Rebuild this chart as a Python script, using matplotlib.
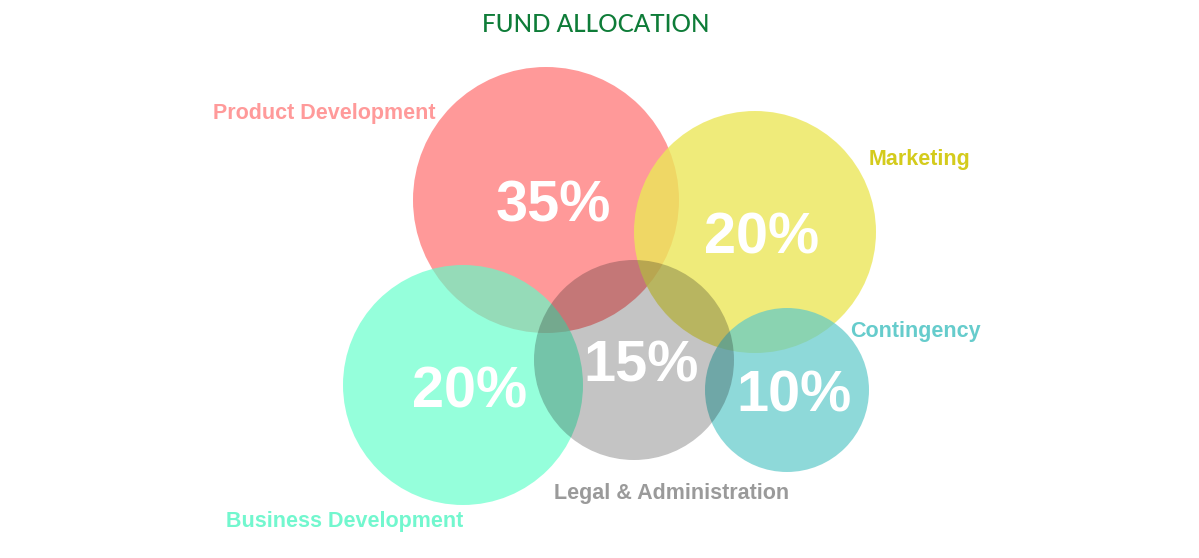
import numpy as np
import matplotlib
matplotlib.use("Agg")
import matplotlib.pyplot as plt
from matplotlib.patches import Circle

# ---- data -------------------------------------------------------------
categories = ["Product Development", "Marketing", "Business Development",
              "Legal & Administration", "Contingency"]
shares = [35, 20, 20, 15, 10]            # percent of the fund
bubble_x = [546, 755, 463, 634, 787]     # bubble centres (chart units)
bubble_y = [200, 232, 385, 360, 390]
bubble_r = [133, 121, 120, 100, 82]      # bubble radii (chart units)

# ---- styles -----------------------------------------------------------
# (base colour, opacity) per bubble; drawing order given by layer
fill_colors = ["#FF3434", "#ECE759", "#5DFFC9", "#141414", "#5FC9C9"]
fill_alpha = [0.5, 0.8, 0.65, 0.25, 0.7]
layer = [1, 2, 3, 5, 4]
label_colors = ["#FF9A9A", "#D4CB1C", "#72F7CE", "#9A9A9A", "#66CCCC"]
# label anchor offsets from each bubble centre
label_offsets = [(-222, -87), (165, -72), (-118, 137), (38, 134), (128, -58)]
pct_offset = (7, 7)

W, H = 1199, 558
fig = plt.figure(figsize=(W / 100, H / 100), dpi=100)
ax = fig.add_axes([0, 0, 1, 1])
ax.set_xlim(0, W)
ax.set_ylim(H, 0)
ax.set_aspect("equal")
ax.axis("off")

for x, y, r, c, a, z in zip(bubble_x, bubble_y, bubble_r, fill_colors,
                            fill_alpha, layer):
    ax.add_patch(Circle((x, y), r, facecolor=c, edgecolor="none",
                        alpha=a, zorder=z))

# percentages inside the bubbles
for x, y, v in zip(bubble_x, bubble_y, shares):
    ax.text(x + pct_offset[0], y + pct_offset[1], f"{v}%", color="white",
            fontsize=41.5, fontweight="bold", family="Liberation Sans",
            ha="center", va="center", zorder=10)

# category labels
for x, y, name, c, (dx, dy) in zip(bubble_x, bubble_y, categories,
                                   label_colors, label_offsets):
    ax.text(x + dx, y + dy, name, color=c, fontsize=15.5, fontweight="bold",
            family="Liberation Sans", ha="center", va="center", zorder=10)

ax.text(596, 24, "FUND ALLOCATION", color="#0E7C38", fontsize=17.5,
        family="Lato", fontweight="medium", ha="center", va="center")

fig.savefig("out.png", dpi=100, facecolor="white")
